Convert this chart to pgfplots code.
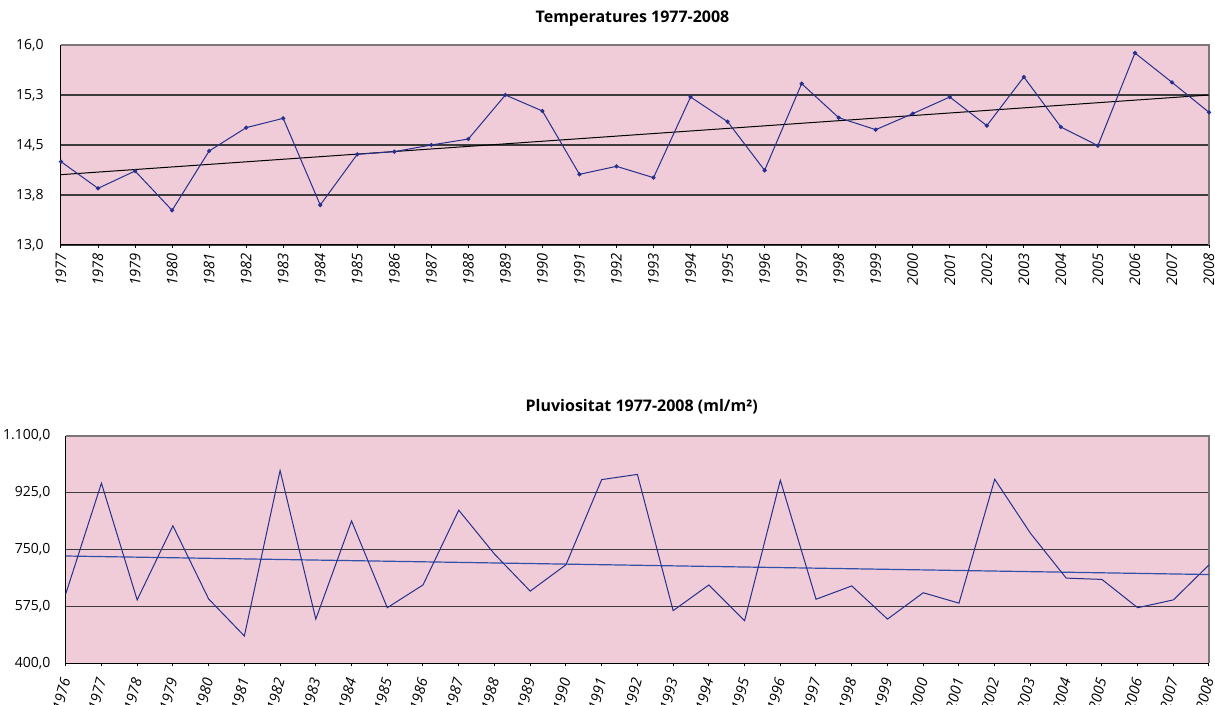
\documentclass[border=0pt]{standalone}
\usepackage{fontspec}
\setmainfont{Open Sans}
\usepackage{pgfplots}
\pgfplotsset{compat=1.18}
\definecolor{bg}{RGB}{239,204,216}
\definecolor{ser}{RGB}{38,48,140}
\definecolor{trendb}{RGB}{50,80,170}
\definecolor{grd}{RGB}{60,60,60}
\definecolor{brd}{RGB}{125,118,120}

\pgfplotstableread{
year temp
1977 14.25
1978 13.85
1979 14.11
1980 13.52
1981 14.41
1982 14.76
1983 14.90
1984 13.60
1985 14.36
1986 14.40
1987 14.50
1988 14.59
1989 15.25
1990 15.01
1991 14.06
1992 14.18
1993 14.01
1994 15.22
1995 14.85
1996 14.12
1997 15.42
1998 14.91
1999 14.73
2000 14.97
2001 15.22
2002 14.79
2003 15.52
2004 14.77
2005 14.49
2006 15.88
2007 15.44
2008 14.99
}\temps

\pgfplotstableread{
year rain
1976 613
1977 954
1978 595
1979 823
1980 598
1981 484
1982 993
1983 536
1984 838
1985 571
1986 641
1987 871
1988 736
1989 622
1990 703
1991 965
1992 981
1993 562
1994 641
1995 531
1996 963
1997 597
1998 638
1999 536
2000 617
2001 585
2002 966
2003 800
2004 662
2005 658
2006 571
2007 595
2008 703
}\rain

\pgfplotsset{mystyle/.style={
  scale only axis,
  axis lines=left,
  axis line style={-, black, line width=0.5pt},
  axis background/.style={fill=bg},
  ymajorgrids,
  grid style={grd, line width=0.6pt},
  tick align=outside,
  major tick length=1.5pt,
  ytick style={draw=none},
  xtick style={black, line width=0.5pt},
  y tick label style={font=\fontsize{7}{8}\selectfont, inner sep=0pt, anchor=east},
  x tick label style={font=\fontsize{7.3}{8}\selectfont\itshape, inner sep=0pt},
  /pgf/number format/1000 sep={},
  /pgf/number format/assume math mode=true,
  clip=false,
}}

\begin{document}
\begin{tikzpicture}
% top chart
\begin{axis}[mystyle,
  at={(30.5pt,-122.5pt)}, anchor=south west,
  width=574pt, height=100pt,
  xmin=1977, xmax=2008, ymin=13, ymax=16,
  xtick={1977,1978,...,2008},
  ytick={13,13.75,14.5,15.25,16},
  yticklabels={{13,0},{13,8},{14,5},{15,3},{16,0}},
  yticklabel shift=7pt,
  x tick label style={rotate=90, anchor=east},
  xticklabel shift=2.5pt,
]
\draw[brd, line width=0.8pt] (rel axis cs:0,1) -- (rel axis cs:1,1) -- (rel axis cs:1,0);
\addplot[black, line width=0.5pt] coordinates {(1977,14.055) (2008,15.25)};
\addplot[ser, line width=0.5pt, mark=*, mark size=0.8pt] table[x=year, y=temp] {\temps};
\end{axis}
\node[font=\bfseries\fontsize{8}{9}\selectfont] at (316.25pt,-9.15pt) {Temperatures 1977-2008};

% bottom chart
\begin{axis}[mystyle,
  at={(32.85pt,-331.65pt)}, anchor=south west,
  width=571.7pt, height=113.8pt,
  xmin=1976, xmax=2008, ymin=400, ymax=1100,
  xtick={1976,1977,...,2008},
  ytick={400,575,750,925,1100},
  yticklabels={{400,0},{575,0},{750,0},{925,0},{1.100,0}},
  yticklabel shift=6pt,
  x tick label style={rotate=75, anchor=east},
  xticklabel shift=6pt,
]
\draw[brd, line width=0.8pt] (rel axis cs:0,1) -- (rel axis cs:1,1) -- (rel axis cs:1,0);
\addplot[trendb, line width=0.6pt] coordinates {(1976,730) (2008,673)};
\addplot[ser, line width=0.5pt] table[x=year, y=rain] {\rain};
\end{axis}
\node[font=\bfseries\fontsize{8}{9}\selectfont] at (320.85pt,-203.5pt) {Pluviositat 1977-2008 (ml/m²)};

\pgfresetboundingbox
\path[use as bounding box] (0,0) rectangle (607.5pt,-352.5pt);
\end{tikzpicture}
\end{document}
